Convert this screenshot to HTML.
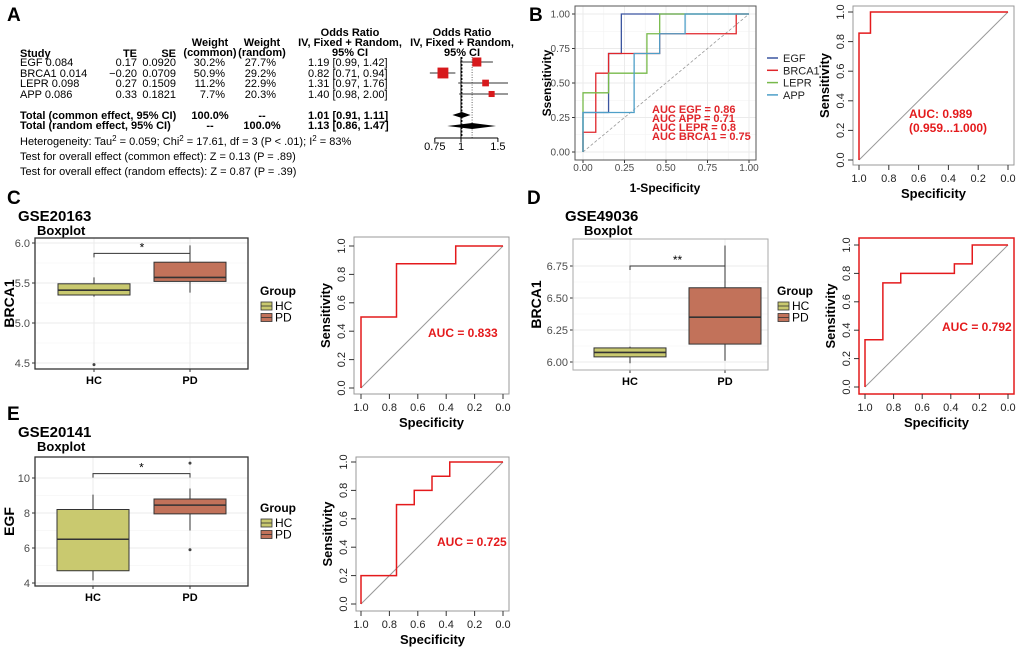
<!DOCTYPE html>
<html><head><meta charset="utf-8">
<style>
body{margin:0;background:#fff;}
svg{display:block;font-family:"Liberation Sans",Arial,sans-serif;}
</style></head>
<body>
<svg id="fig" width="1020" height="653" viewBox="0 0 1020 653" xmlns="http://www.w3.org/2000/svg">
<g font-size="11" fill="#000">
<text x="7" y="21" font-size="19" font-weight="bold">A</text>
<text text-anchor="middle" font-weight="bold"><tspan x="210" y="46">Weight</tspan><tspan x="210" y="56">(common)</tspan></text>
<text text-anchor="middle" font-weight="bold"><tspan x="262" y="46">Weight</tspan><tspan x="262" y="56">(random)</tspan></text>
<text text-anchor="middle" font-weight="bold"><tspan x="350" y="36">Odds Ratio</tspan><tspan x="350" y="46">IV, Fixed + Random,</tspan><tspan x="350" y="56">95% CI</tspan></text>
<text text-anchor="middle" font-weight="bold"><tspan x="462" y="36">Odds Ratio</tspan><tspan x="462" y="46">IV, Fixed + Random,</tspan><tspan x="462" y="56">95% CI</tspan></text>
<text x="20" y="57" font-weight="bold">Study</text>
<text x="137" y="57" text-anchor="end" font-weight="bold">TE</text>
<text x="176" y="57" text-anchor="end" font-weight="bold">SE</text>
<g id="studyRows"></g>
<text x="20" y="119" font-weight="bold">Total (common effect, 95% CI)</text>
<text x="210" y="119" text-anchor="middle" font-weight="bold">100.0%</text>
<text x="262" y="119" text-anchor="middle" font-weight="bold">--</text>
<text x="308" y="119" font-weight="bold">1.01 [0.91, 1.11]</text>
<text x="20" y="129" font-weight="bold">Total (random effect, 95% CI)</text>
<text x="210" y="129" text-anchor="middle" font-weight="bold">--</text>
<text x="262" y="129" text-anchor="middle" font-weight="bold">100.0%</text>
<text x="308" y="129" font-weight="bold">1.13 [0.86, 1.47]</text>
<text x="20" y="145">Heterogeneity: Tau<tspan dy="-4" font-size="8">2</tspan><tspan dy="4"> = 0.059; Chi</tspan><tspan dy="-4" font-size="8">2</tspan><tspan dy="4"> = 17.61, df = 3 (P &lt; .01); I</tspan><tspan dy="-4" font-size="8">2</tspan><tspan dy="4"> = 83%</tspan></text>
<text x="20" y="160">Test for overall effect (common effect): Z = 0.13 (P = .89)</text>
<text x="20" y="175">Test for overall effect (random effects): Z = 0.87 (P = .39)</text>
<g id="forest"></g>
</g>
<g id="plots"></g>
</svg>
<script>
// ---- Panel A data ----
const studies = ["EGF  0.084","BRCA1  0.014","LEPR  0.098","APP  0.086"];
const teVals = ["0.17","-0.20","0.27","0.33"];
const seVals = ["0.0920","0.0709","0.1509","0.1821"];
const wCommon = [30.2,50.9,11.2,7.7];
const wRandom = [27.7,29.2,22.9,20.3];
const orVals = [1.19,0.82,1.31,1.40];
const orLo = [0.99,0.71,0.97,0.98];
const orHi = [1.42,0.94,1.76,2.00];
const commonOR = [1.01,0.91,1.11];
const randomOR = [1.13,0.86,1.47];
const forestTicks = [0.75,1,1.5];

// ---- Panel B ggplot ROC data ----
const rocNames = ["EGF","BRCA1","LEPR","APP"];
const rocColors = ["#3B55A0","#E0262B","#77B94A","#4E9FC8"];
const rocFpr = [
 [0,0,0.154,0.154,0.231,0.231,1],
 [0,0,0.077,0.077,0.154,0.154,0.462,0.462,0.923,0.923,1],
 [0,0,0.154,0.154,0.385,0.385,0.462,0.462,1],
 [0,0,0.308,0.308,0.462,0.462,0.615,0.615,1]];
const rocTpr = [
 [0,0.286,0.286,0.714,0.714,1,1],
 [0,0.143,0.143,0.571,0.571,0.714,0.714,0.857,0.857,1,1],
 [0,0.429,0.429,0.571,0.571,0.857,0.857,1,1],
 [0,0.286,0.286,0.714,0.714,0.857,0.857,1,1]];
const bTicks = [0,0.25,0.5,0.75,1];
const aucLines = ["AUC EGF =  0.86","AUC APP =  0.71","AUC LEPR =  0.8","AUC BRCA1 =  0.75"];

// ---- base ROC data ----
const specB = [1,1,0.923,0.923,0]; const sensB = [0,0.857,0.857,1,1];
const specC = [1,1,0.75,0.75,0.333,0.333,0]; const sensC = [0,0.5,0.5,0.875,0.875,1,1];
const specD = [1,1,0.875,0.875,0.75,0.75,0.375,0.375,0.25,0.25,0]; const sensD = [0,0.333,0.333,0.733,0.733,0.8,0.8,0.867,0.867,1,1];
const specE = [1,1,0.75,0.75,0.625,0.625,0.5,0.5,0.375,0.375,0]; const sensE = [0,0.2,0.2,0.7,0.7,0.8,0.8,0.9,0.9,1,1];
const rocTicks = [1.0,0.8,0.6,0.4,0.2,0.0];

// ---- boxplot data: [whiskLo, q1, median, q3, whiskHi] ----
const groups = ["HC","PD"];
const boxC_HC = [5.33,5.35,5.41,5.49,5.57]; const boxC_PD = [5.38,5.52,5.57,5.76,5.97];
const outC_HC = [4.48]; const outC_PD = [];
const ticksC = [4.5,5.0,5.5,6.0];
const boxD_HC = [5.99,6.04,6.075,6.11,6.12]; const boxD_PD = [6.01,6.14,6.35,6.58,6.91];
const outD_HC = []; const outD_PD = [];
const ticksD = [6.00,6.25,6.50,6.75];
const boxE_HC = [4.15,4.7,6.5,8.2,9.05]; const boxE_PD = [7.0,7.95,8.45,8.8,9.4];
const outE_HC = []; const outE_PD = [5.9,10.85];
const ticksE = [4,6,8,10];

const NS="http://www.w3.org/2000/svg";
function mk(parent,tag,attrs,txt){const e=document.createElementNS(NS,tag);for(const k in attrs)e.setAttribute(k,attrs[k]);if(txt!==undefined)e.textContent=txt;parent.appendChild(e);return e;}
const root=document.getElementById('plots');

// ---- Panel A rows ----
const rowsG=document.getElementById('studyRows');
const rowY=[66,77,87,98];
studies.forEach((s,i)=>{
 const y=rowY[i];
 let t=mk(rowsG,'text',{x:20,y:y},s);  
 t=mk(rowsG,'text',{x:137,y:y,'text-anchor':'end'},teVals[i].replace('-','\u2212'));  
 t=mk(rowsG,'text',{x:176,y:y,'text-anchor':'end'},seVals[i]);  
 t=mk(rowsG,'text',{x:225,y:y,'text-anchor':'end'},wCommon[i].toFixed(1)+'%');  
 t=mk(rowsG,'text',{x:276,y:y,'text-anchor':'end'},wRandom[i].toFixed(1)+'%');  
 t=mk(rowsG,'text',{x:308,y:y},orVals[i].toFixed(2)+' ['+orLo[i].toFixed(2)+', '+orHi[i].toFixed(2)+']');  
});
// forest
const fg=document.getElementById('forest');
const fx=v=>461+91*Math.log(v);
const fyc=[62,73,83,94];
mk(fg,'line',{x1:fx(1),x2:fx(1),y1:57,y2:138,stroke:'#000','stroke-width':1});
mk(fg,'line',{x1:fx(randomOR[0]),x2:fx(randomOR[0]),y1:57,y2:138,stroke:'#666','stroke-width':1,'stroke-dasharray':'1,1.5'});
mk(fg,'line',{x1:fx(commonOR[0]),x2:fx(commonOR[0]),y1:57,y2:138,stroke:'#000','stroke-width':1,'stroke-dasharray':'2,1.5'});
orVals.forEach((v,i)=>{
 const l=mk(fg,'line',{x1:fx(orLo[i]),x2:Math.min(fx(orHi[i]),508),y1:fyc[i],y2:fyc[i],stroke:'#333','stroke-width':1});
  
 const s=3+Math.sqrt(wCommon[i])*1.1;
 const r=mk(fg,'rect',{x:fx(v)-s/2,y:fyc[i]-s/2,width:s,height:s,fill:'#D7191C'});
  
});
function diamond(o,y,h,name){const p=mk(fg,'polygon',{points:`${fx(o[1])},${y} ${fx(o[0])},${y-h} ${fx(o[2])},${y} ${fx(o[0])},${y+h}`,fill:'#000'});}
diamond(commonOR,115,3,'common-diamond');
diamond(randomOR,126,3,'random-diamond');
mk(fg,'line',{x1:fx(0.75),x2:fx(1.5),y1:138,y2:138,stroke:'#000'});
forestTicks.forEach(t=>{mk(fg,'line',{x1:fx(t),x2:fx(t),y1:138,y2:142,stroke:'#000'});const tt=mk(fg,'text',{x:fx(t),y:150,'text-anchor':'middle'},String(t));});

// ---- Panel B ggplot ROC ----
(function(){
 const g=mk(root,'g',{});
  
 const lab=mk(g,'text',{x:529,y:21,'font-size':19,'font-weight':'bold'},'B');  
 const X=v=>583+166*v, Y=v=>152-138*v;
 mk(g,'rect',{x:575,y:6,width:181,height:154,fill:'#fff'});
 [0.125,0.375,0.625,0.875].forEach(v=>{mk(g,'line',{x1:X(v),x2:X(v),y1:6,y2:160,stroke:'#f2f2f2','stroke-width':0.6});mk(g,'line',{x1:575,x2:756,y1:Y(v),y2:Y(v),stroke:'#f2f2f2','stroke-width':0.6});});
 bTicks.forEach(v=>{mk(g,'line',{x1:X(v),x2:X(v),y1:6,y2:160,stroke:'#ebebeb','stroke-width':1});mk(g,'line',{x1:575,x2:756,y1:Y(v),y2:Y(v),stroke:'#ebebeb','stroke-width':1});
  const tx=mk(g,'text',{x:X(v),y:171,'text-anchor':'middle','font-size':10,fill:'#4d4d4d'},v.toFixed(2));  
  const ty=mk(g,'text',{x:570,y:Y(v)+3.5,'text-anchor':'end','font-size':10,fill:'#4d4d4d'},v.toFixed(2));  
  mk(g,'line',{x1:X(v),x2:X(v),y1:160,y2:163,stroke:'#333'});mk(g,'line',{x1:572,x2:575,y1:Y(v),y2:Y(v),stroke:'#333'});});
 mk(g,'line',{x1:X(0),y1:Y(0),x2:X(1),y2:Y(1),stroke:'#999','stroke-dasharray':'3,2','stroke-width':0.8});
 rocNames.forEach((n,i)=>{
  const pts=rocFpr[i].map((f,j)=>X(f)+','+Y(rocTpr[i][j])).join(' ');
  const p=mk(g,'polyline',{points:pts,fill:'none',stroke:rocColors[i],'stroke-width':1.3});
   
  const ly=58+12.3*i;
  mk(g,'line',{x1:767,x2:778,y1:ly,y2:ly,stroke:rocColors[i],'stroke-width':1.5});
  const lt=mk(g,'text',{x:783,y:ly+4,'font-size':11,fill:'#222'},n);  
 });
 mk(g,'rect',{x:575,y:6,width:181,height:154,fill:'none',stroke:'#555','stroke-width':1});
 aucLines.forEach((t,i)=>{const a=mk(g,'text',{x:652,y:113+9*i,'font-size':11,'font-weight':'bold',fill:'#E0262B'},t);});
 const xt=mk(g,'text',{x:665,y:192,'text-anchor':'middle','font-size':12,'font-weight':'bold'},'1-Specificity');  
 const yt=mk(g,'text',{x:0,y:0,transform:'translate(551,83) rotate(-90)','text-anchor':'middle','font-size':12,'font-weight':'bold'},'Ssensitivity');  
})();

// ---- base-R ROC ----
function baseRoc(name,cfg,spec,sens,auc){
 const g=mk(root,'g',{});
  
 const X=v=>cfg.x0+(cfg.x1-cfg.x0)*(1-v), Y=v=>cfg.y0+(cfg.y1-cfg.y0)*v;
 const b=cfg.box;
 mk(g,'line',{x1:X(1),y1:Y(0),x2:X(0),y2:Y(1),stroke:'#999','stroke-width':1});
 const pts=spec.map((s,j)=>X(s)+','+Y(sens[j])).join(' ');
 const p=mk(g,'polyline',{points:pts,fill:'none',stroke:'#E41A1C','stroke-width':1.5});
  
 mk(g,'rect',{x:b[0],y:b[1],width:b[2]-b[0],height:b[3]-b[1],fill:'none',stroke:cfg.boxColor,'stroke-width':cfg.boxColor==='#999'?1:1.5});
 rocTicks.forEach(v=>{
  mk(g,'line',{x1:X(v),x2:X(v),y1:b[3],y2:b[3]+5,stroke:'#333'});
  const tx=mk(g,'text',{x:X(v),y:b[3]+17,'text-anchor':'middle','font-size':11,fill:'#222'},v.toFixed(1));  
  mk(g,'line',{x1:b[0]-5,x2:b[0],y1:Y(v),y2:Y(v),stroke:'#333'});
  const ty=mk(g,'text',{x:0,y:0,transform:`translate(${b[0]-9},${Y(v)}) rotate(-90)`,'text-anchor':'middle','font-size':11,fill:'#222'},v.toFixed(1));  
 });
 const xt=mk(g,'text',{x:(b[0]+b[2])/2,y:b[3]+33,'text-anchor':'middle','font-size':13,'font-weight':'bold'},'Specificity');  
 const yt=mk(g,'text',{x:0,y:0,transform:`translate(${b[0]-24},${(b[1]+b[3])/2}) rotate(-90)`,'text-anchor':'middle','font-size':13,'font-weight':'bold'},'Sensitivity');  
 auc.forEach((t,i)=>{const a=mk(g,'text',{x:cfg.ax,y:cfg.ay+14*i,'font-size':12,'font-weight':'bold',fill:'#E41A1C'},t);});
}
baseRoc('panel-b-roc-right',{x0:859,x1:1008,y0:160,y1:12,box:[853,6,1014,165],boxColor:'#999',ax:909,ay:118},specB,sensB,['AUC: 0.989','(0.959...1.000)']);
baseRoc('panel-c-roc',{x0:361,x1:503,y0:388,y1:246,box:[354,237,509,394],boxColor:'#999',ax:428,ay:337},specC,sensC,['AUC =  0.833']);
baseRoc('panel-d-roc',{x0:865,x1:1008,y0:387,y1:245,box:[859,238,1014,394],boxColor:'#E41A1C',ax:942,ay:331},specD,sensD,['AUC =  0.792']);
baseRoc('panel-e-roc',{x0:361,x1:503,y0:604,y1:462,box:[356,457,509,611],boxColor:'#999',ax:437,ay:546},specE,sensE,['AUC =  0.725']);

// ---- boxplots ----
function boxplot(name,cfg,hc,pd,outHC,outPD,ticks){
 const g=mk(root,'g',{});
  
 const Y=v=>cfg.ya+(v-cfg.va)*(cfg.yb-cfg.ya)/(cfg.vb-cfg.va);
 const [l,t,r,b]=cfg.area;
 const lab=mk(g,'text',{x:cfg.lx,y:cfg.ly,'font-size':19,'font-weight':'bold'},cfg.letter);  
 const ti=mk(g,'text',{x:cfg.tx,y:cfg.ty,'font-size':15,'font-weight':'bold'},cfg.title);  
 const st=mk(g,'text',{x:cfg.tx+19,y:cfg.ty+14,'font-size':13,'font-weight':'bold'},'Boxplot');  
 mk(g,'rect',{x:l,y:t,width:r-l,height:b-t,fill:'#fff'});
 for(let i=0;i<ticks.length-1;i++){const m=(ticks[i]+ticks[i+1])/2;mk(g,'line',{x1:l,x2:r,y1:Y(m),y2:Y(m),stroke:'#f2f2f2','stroke-width':0.6});}
 ticks.forEach(v=>{mk(g,'line',{x1:l,x2:r,y1:Y(v),y2:Y(v),stroke:'#ebebeb'});mk(g,'line',{x1:l-3,x2:l,y1:Y(v),y2:Y(v),stroke:'#333'});
  const ty=mk(g,'text',{x:l-5,y:Y(v)+4,'text-anchor':'end','font-size':11,fill:'#4d4d4d'},cfg.fmt(v));  });
 const xs=cfg.xs;
 xs.forEach(x=>mk(g,'line',{x1:x,x2:x,y1:t,y2:b,stroke:'#ebebeb'}));
 const cols=['#C9C96F','#C2725A'];
 [[hc,outHC],[pd,outPD]].forEach((d,i)=>{
  const s=d[0],x=xs[i],w=cfg.bw;
  mk(g,'line',{x1:x,x2:x,y1:Y(s[0]),y2:Y(s[4]),stroke:'#333','stroke-width':1});
  const bx=mk(g,'rect',{x:x-w/2,y:Y(s[3]),width:w,height:Y(s[1])-Y(s[3]),fill:cols[i],stroke:'#333','stroke-width':1});
   
  mk(g,'line',{x1:x-w/2,x2:x+w/2,y1:Y(s[2]),y2:Y(s[2]),stroke:'#333','stroke-width':1.6});
  d[1].forEach(o=>{const c=mk(g,'circle',{cx:x,cy:Y(o),r:1.5,fill:'#444'});});
  mk(g,'line',{x1:x,x2:x,y1:b,y2:b+3,stroke:'#333'});
  const xl=mk(g,'text',{x:x,y:b+15,'text-anchor':'middle','font-size':11,'font-weight':'bold'},groups[i]);  
 });
 const by=Y(cfg.brk);
 const br=mk(g,'path',{d:`M${xs[0]},${by+4} V${by} H${xs[1]} V${by+4}`,fill:'none',stroke:'#333','stroke-width':1});
  
 const sg=mk(g,'text',{x:(xs[0]+xs[1])/2,y:by-2,'text-anchor':'middle','font-size':12},cfg.sig);  
 mk(g,'rect',{x:l,y:t,width:r-l,height:b-t,fill:'none',stroke:cfg.border,'stroke-width':cfg.border==='#333'?1.3:1});
 const yt=mk(g,'text',{x:0,y:0,transform:`translate(${cfg.yx},${(t+b)/2}) rotate(-90)`,'text-anchor':'middle','font-size':14,'font-weight':'bold'},cfg.ylab);  
 const gx=cfg.gx,gy=cfg.gy;
 const gt=mk(g,'text',{x:gx,y:gy,'font-size':12,'font-weight':'bold'},'Group');  
 groups.forEach((n,i)=>{const yy=gy+7+11.5*i;
  mk(g,'rect',{x:gx+1,y:yy,width:11,height:8,fill:cols[i],stroke:'#333','stroke-width':0.8});
  mk(g,'line',{x1:gx+1,x2:gx+12,y1:yy+4,y2:yy+4,stroke:'#333','stroke-width':0.8});
  const lt=mk(g,'text',{x:gx+15,y:yy+8,'font-size':12},n);  });
}
boxplot('panel-c-boxplot',{letter:'C',lx:7,ly:204,title:'GSE20163',tx:18,ty:221,area:[35,238,248,369],va:6.0,ya:243,vb:4.5,yb:363,xs:[94,190],bw:72,brk:5.87,sig:'*',border:'#333',yx:14,gx:260,gy:295,ylab:'BRCA1',fmt:v=>v.toFixed(1)},boxC_HC,boxC_PD,outC_HC,outC_PD,ticksC);
boxplot('panel-d-boxplot',{letter:'D',lx:527,ly:204,title:'GSE49036',tx:565,ty:221,area:[573,239,768,370],va:6.75,ya:266,vb:6.0,yb:362,xs:[630,725],bw:72,brk:6.75,sig:'**',border:'#aaa',yx:541,gx:777,gy:295,ylab:'BRCA1',fmt:v=>v.toFixed(2)},boxD_HC,boxD_PD,outD_HC,outD_PD,ticksD);
boxplot('panel-e-boxplot',{letter:'E',lx:7,ly:420,title:'GSE20141',tx:18,ty:437,area:[35,457,248,586],va:10,ya:478,vb:4,yb:583,xs:[93,190],bw:72,brk:10.25,sig:'*',border:'#333',yx:14,gx:260,gy:512,ylab:'EGF',fmt:v=>String(v)},boxE_HC,boxE_PD,outE_HC,outE_PD,ticksE);
</script>
</body></html>
